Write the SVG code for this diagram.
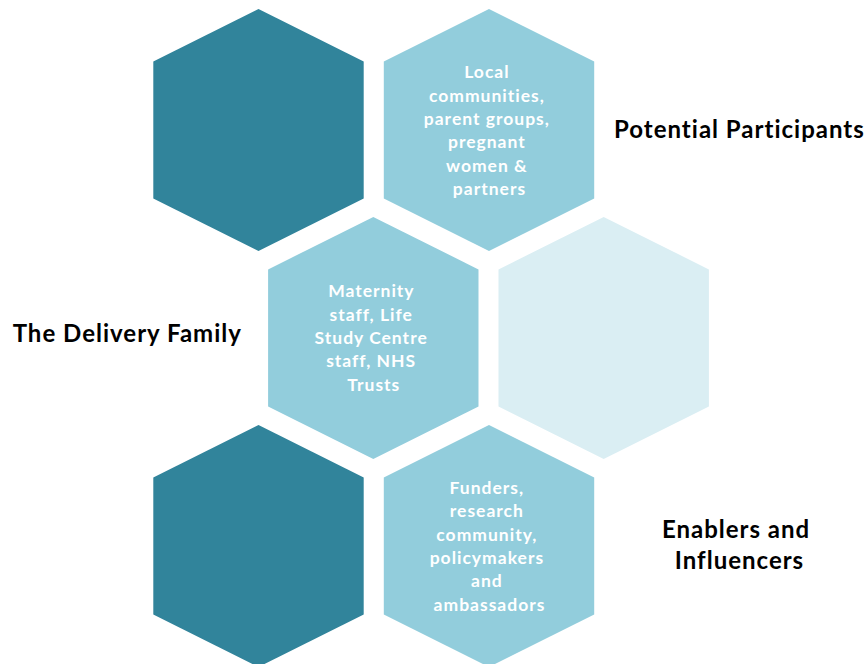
<svg xmlns="http://www.w3.org/2000/svg" width="867" height="664" viewBox="0 0 867 664">
  <defs>
    <!-- stretched pointy-top hexagon, centred on the origin -->
    <polygon id="hex" points="0,-121 105.2,-68.6 105.2,68.6 0,121 -105.2,68.6 -105.2,-68.6"/>
  </defs>
  <style>
    .dark { fill: #31849B; }
    .mid { fill: #92CDDC; }
    .pale { fill: #DAEEF3; }
    .inner { font-family: Lato, "Open Sans", "Liberation Sans", sans-serif; font-weight: 700; font-size: 17.5px; letter-spacing: 1px; fill: #FFFFFF; text-anchor: middle; }
    .label { font-family: Lato, "Open Sans", "Liberation Sans", sans-serif; font-weight: 700; font-size: 24px; letter-spacing: 1px; fill: #000000; }
  </style>
  <rect width="867" height="664" fill="#FFFFFF"/>

  <g id="hex-top-left">
    <use href="#hex" class="dark" x="258.5" y="130"/>
  </g>

  <g id="hex-participants">
    <use href="#hex" class="mid" x="489" y="130"/>
    <text class="inner">
      <tspan x="489.5" y="78.3">Local</tspan>
      <tspan x="489.5" y="101.6">communities,</tspan>
      <tspan x="489.5" y="124.9">parent groups,</tspan>
      <tspan x="489.5" y="148.2">pregnant</tspan>
      <tspan x="489.5" y="171.5">women &amp;</tspan>
      <tspan x="489.5" y="194.8">partners</tspan>
    </text>
  </g>

  <g id="hex-delivery">
    <use href="#hex" class="mid" x="373.3" y="338"/>
    <text class="inner">
      <tspan x="373.8" y="297.4">Maternity</tspan>
      <tspan x="373.8" y="320.7">staff, Life</tspan>
      <tspan x="373.8" y="344">Study Centre</tspan>
      <tspan x="373.8" y="367.3">staff, NHS</tspan>
      <tspan x="373.8" y="390.6">Trusts</tspan>
    </text>
  </g>

  <g id="hex-middle-right">
    <use href="#hex" class="pale" x="603.7" y="338"/>
  </g>

  <g id="hex-bottom-left">
    <use href="#hex" class="dark" x="258.5" y="546"/>
  </g>

  <g id="hex-enablers">
    <use href="#hex" class="mid" x="489" y="546"/>
    <text class="inner">
      <tspan x="489.5" y="494">Funders,</tspan>
      <tspan x="489.5" y="517.3">research</tspan>
      <tspan x="489.5" y="540.6">community,</tspan>
      <tspan x="489.5" y="563.9">policymakers</tspan>
      <tspan x="489.5" y="587.2">and</tspan>
      <tspan x="489.5" y="610.5">ambassadors</tspan>
    </text>
  </g>

  <g id="labels">
    <text class="label" x="614" y="138.3">Potential Participants</text>
    <text class="label" x="12.7" y="341.7">The Delivery Family</text>
    <text class="label" text-anchor="middle">
      <tspan x="739.5" y="538.3">Enablers and</tspan>
      <tspan x="739.5" y="569">Influencers</tspan>
    </text>
  </g>

  <g id="connectors"/>
</svg>
